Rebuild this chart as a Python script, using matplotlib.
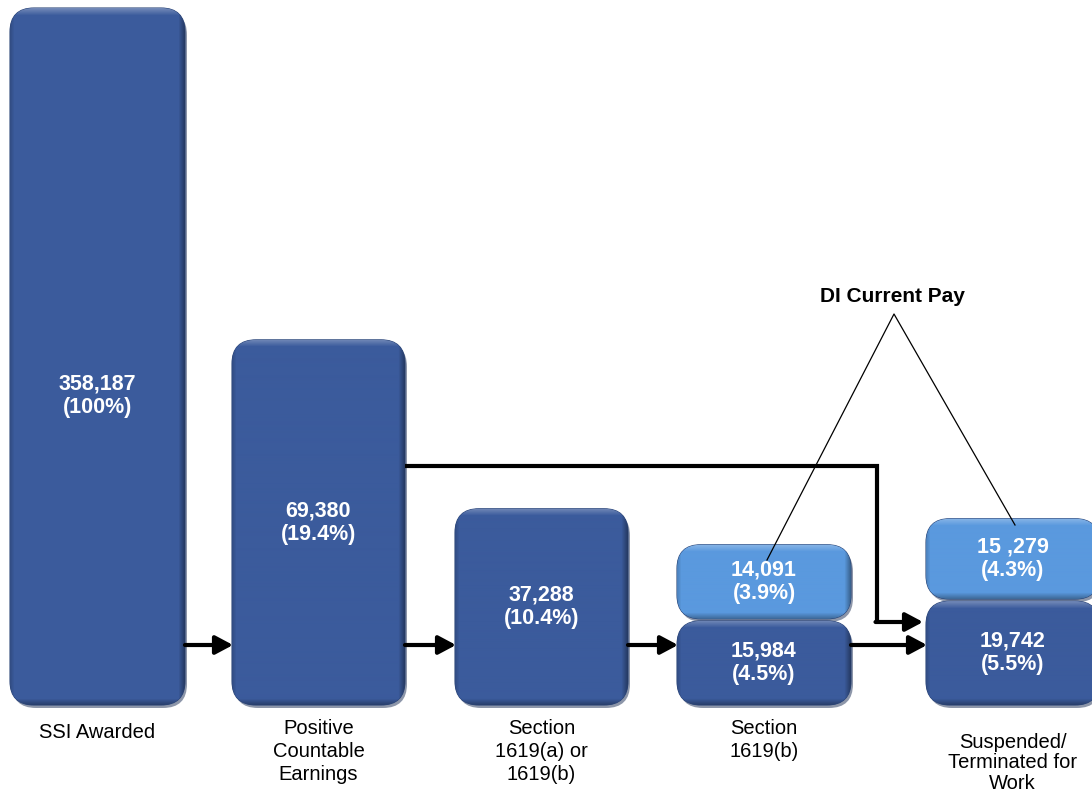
import numpy as np
import matplotlib
matplotlib.use("Agg")
import matplotlib.pyplot as plt
from matplotlib.patches import FancyBboxPatch
from matplotlib.colors import to_rgb

plt.rcParams['font.family'] = ['Liberation Sans', 'DejaVu Sans']

# ---- data ----
stages = ["SSI Awarded", "Positive\nCountable\nEarnings", "Section\n1619(a) or\n1619(b)",
          "Section\n1619(b)", "Suspended/\nTerminated for\nWork"]
base_counts = [358187, 69380, 37288, 15984, 19742]
base_pcts = ["100%", "19.4%", "10.4%", "4.5%", "5.5%"]
di_counts = [None, None, None, 14091, 15279]
di_pcts = [None, None, None, "3.9%", "4.3%"]
di_count_labels = [None, None, None, "14,091", "15 ,279"]
callout = "DI Current Pay"

# ---- layout (pixel-like x, y in persons) ----
W, H = 1092, 795
UNIT = 190.0                      # persons per pixel on the y axis
BASE_PX = 705                     # baseline pixel row
x_left = [10, 232, 455, 677, 926]
bar_w = [175, 173, 173, 174, 173]
y_cap = 697 * UNIT                # tallest bar is cut at the top of the panel
gap = 2 * UNIT
radius = 24

DARK = "#3b5b9c"
LIGHT = "#5a99de"


def py(p):
    """pixel row -> y value"""
    return (BASE_PX - p) * UNIT


fig = plt.figure(figsize=(W / 100, H / 100), dpi=100)
ax = fig.add_axes([0, 0, 1, 1])
ax.set_xlim(0, W)
ax.set_ylim(py(H), py(0))
ax.axis("off")


def shaded_box(x0, y0, w, h, color, z=2):
    r = min(radius, 0.45 * h / UNIT)
    style = f"round,pad=0,rounding_size={r}"
    # drop shadow
    sh = FancyBboxPatch((x0 + 2, y0 - 3 * UNIT), w, h, boxstyle=style,
                        mutation_aspect=UNIT, fc="#1c2f55", ec="none",
                        alpha=0.5, zorder=z - 0.5)
    ax.add_patch(sh)
    box = FancyBboxPatch((x0, y0), w, h, boxstyle=style,
                         mutation_aspect=UNIT, fc=color, ec="#2c4678",
                         lw=0.8, zorder=z)
    ax.add_patch(box)
    # bevel shading: lighter top rim, darker right and bottom rims
    hp = max(int(h / UNIT), 4)
    wp = max(int(w), 4)
    base = np.array(to_rgb(color))
    img = np.tile(base, (hp, wp, 1))
    rows = np.arange(hp)[:, None]
    cols = np.arange(wp)[None, :]
    top = np.clip(1 - (hp - 1 - rows) / 7.0, 0, 1)
    bot = np.clip(1 - rows / 6.0, 0, 1)
    right = np.clip(1 - (wp - 1 - cols) / 6.0, 0, 1)
    left = np.clip(1 - cols / 4.0, 0, 1)
    lighten = 0.28 * top
    darken = np.maximum(np.maximum(0.30 * bot, 0.35 * right), 0.15 * left)
    img = img + (1 - img) * lighten[..., None]
    img = img * (1 - darken[..., None])
    im = ax.imshow(np.clip(img, 0, 1), extent=[x0, x0 + w, y0, y0 + h],
                   origin="lower", aspect="auto", zorder=z + 0.1,
                   interpolation="bilinear")
    im.set_clip_path(box)
    return box


def arrow(x0, y0, x1, y1):
    ax.annotate("", xy=(x1, y1), xytext=(x0, y0),
                arrowprops=dict(arrowstyle="-|>,head_length=0.75,head_width=0.4",
                                lw=3.0, color="black", shrinkA=0, shrinkB=0,
                                mutation_scale=14),
                zorder=5)


val_kw = dict(color="white", fontsize=15.5, fontweight="bold", ha="center",
              va="center", linespacing=1.15, zorder=6)
lab_kw = dict(color="black", fontsize=14.5, ha="center", va="top", zorder=6)

label_rows = [723, 719, 719, 719, 733]
label_spacing = [1.27, 1.27, 1.27, 1.27, 1.1]
value_centres = [396, None, None, None, None]

for i, (cnt, pct) in enumerate(zip(base_counts, base_pcts)):
    h = min(cnt, y_cap)
    shaded_box(x_left[i], 0, bar_w[i], h, DARK)
    cx = x_left[i] + bar_w[i] / 2
    yc = py(value_centres[i]) if value_centres[i] else h / 2
    ax.text(cx, yc, f"{cnt:,}\n({pct})", **val_kw)
    if di_counts[i]:
        y0 = h + gap
        shaded_box(x_left[i], y0, bar_w[i], di_counts[i], LIGHT)
        ax.text(cx, y0 + di_counts[i] / 2, f"{di_count_labels[i]}\n({di_pcts[i]})", **val_kw)
    ax.text(cx, py(label_rows[i]), stages[i], linespacing=label_spacing[i], **lab_kw)

# flow arrows along the bottom
flow_y = py(645)
for i in range(4):
    arrow(x_left[i] + bar_w[i], flow_y, x_left[i + 1] + 1, flow_y)

# elbow connector from Positive Countable Earnings to Suspended/Terminated
x_start = x_left[1] + bar_w[1]
ax.plot([x_start, 877, 877], [py(466), py(466), py(622)], color="black",
        lw=3.0, solid_joinstyle="miter", solid_capstyle="butt", zorder=5)
arrow(877 - 1.5, py(622), x_left[4] - 3, py(622))

# DI Current Pay callout
apex = (894, py(314))
ax.text(892, py(296), callout, fontsize=15, fontweight="bold", ha="center",
        va="center", zorder=6)
ax.plot([767, apex[0], 1015], [py(560), apex[1], py(525)], color="black",
        lw=0.9, zorder=7)

fig.savefig("out.png", dpi=100)
